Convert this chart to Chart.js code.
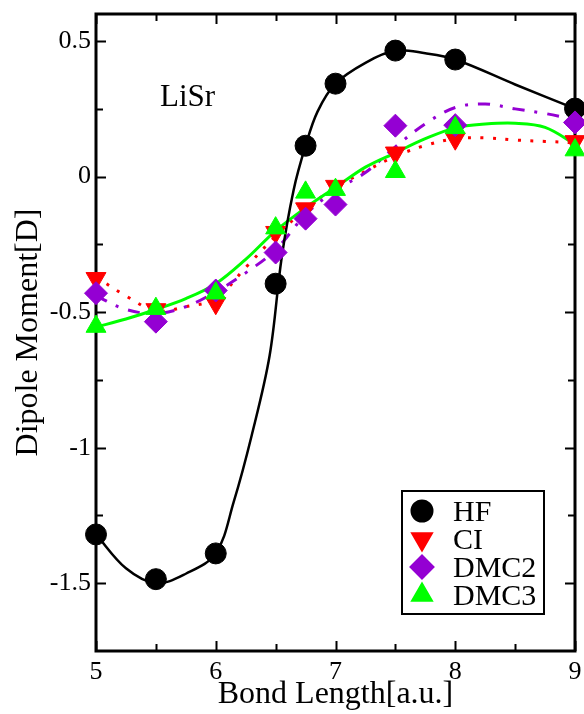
<!DOCTYPE html>
<html>
<head>
<meta charset="utf-8">
<script src="https://cdn.jsdelivr.net/npm/chart.js@4.4.1/dist/chart.umd.min.js"></script>
<style>
  html, body { margin: 0; padding: 0; background: #fff; }
  canvas { display: block; }
</style>
</head>
<body>
<canvas id="chart" width="584" height="714"></canvas>
<script>
// computed points (bond length in a.u., dipole moment in D)
const bondLength = [5, 5.5, 6, 6.5, 6.75, 7, 7.5, 8, 9];
const hf   = [-1.32, -1.485, -1.39, -0.395, 0.114, 0.343, 0.465, 0.432, 0.251];
const ci   = [-0.375, -0.49, -0.467, -0.205, -0.118, -0.035, 0.088, 0.14, 0.13];
const dmc2 = [-0.43, -0.535, -0.42, -0.28, -0.155, -0.103, 0.188, 0.19, 0.2];
const dmc3 = [-0.553, -0.487, -0.43, -0.19, -0.058, -0.048, 0.018, 0.18, 0.098];

// curves drawn through / fitted to the points
const hfCurveX = [5, 5.25, 5.5, 5.75, 6, 6.15, 6.3, 6.45, 6.55, 6.65, 6.75, 6.85, 7, 7.25, 7.5, 7.75, 8, 8.5, 9];
const hfCurveY = [-1.32, -1.445, -1.5, -1.465, -1.39, -1.2, -0.955, -0.66, -0.3, -0.05, 0.114, 0.24, 0.343, 0.42, 0.465, 0.455, 0.432, 0.34, 0.251];
const fitX    = [5, 5.25, 5.5, 5.75, 6, 6.25, 6.5, 6.75, 7, 7.25, 7.5, 7.75, 8, 8.25, 8.5, 8.75, 9];
const ciFit   = [-0.37, -0.44, -0.495, -0.48, -0.45, -0.335, -0.22, -0.12, -0.04, 0.02, 0.075, 0.115, 0.14, 0.143, 0.135, 0.13, 0.125];
const dmc2Fit = [-0.44, -0.49, -0.505, -0.48, -0.425, -0.355, -0.27, -0.14, -0.05, 0.015, 0.11, 0.195, 0.255, 0.268, 0.25, 0.233, 0.21];
const dmc3Fit = [-0.555, -0.525, -0.49, -0.45, -0.395, -0.305, -0.2, -0.115, -0.04, 0.035, 0.088, 0.14, 0.18, 0.194, 0.197, 0.182, 0.12];

const xTicks = [5, 6, 7, 8, 9];
const xMinorTicks = [5.5, 6.5, 7.5, 8.5];
const yTicks = [-1.5, -1, -0.5, 0, 0.5];
const yMinorTicks = [-1.25, -0.75, -0.25, 0.25];

const serif = "'Liberation Serif', 'Times New Roman', serif";
const violet = "#9400d3";
const green = "#00ff00";

const pts = (xs, ys) => xs.map((x, i) => ({ x: x, y: ys[i] }));

function markers(label, ys, color, style, rotation, radius, order) {
  return {
    label: label,
    data: pts(bondLength, ys),
    showLine: false,
    pointStyle: style,
    rotation: rotation,
    pointRadius: radius,
    pointBackgroundColor: color,
    pointBorderColor: color,
    pointBorderWidth: 1,
    borderColor: color,
    backgroundColor: color,
    clip: false,
    order: order,
    isMarker: true
  };
}

function curve(xs, ys, color, width, dash, order) {
  return {
    label: "",
    data: pts(xs, ys),
    showLine: true,
    fill: false,
    borderColor: color,
    borderWidth: width,
    borderDash: dash,
    pointRadius: 0,
    tension: 0.35,
    clip: false,
    order: order
  };
}

// frame with inward ticks on all four sides, legend box and label
const frame = {
  id: "frame",
  beforeDatasetsDraw(chart) {
    const { ctx, chartArea: a, scales } = chart;
    const x = scales.x, y = scales.y;
    ctx.save();
    ctx.strokeStyle = "#000";
    ctx.lineWidth = 2;
    ctx.beginPath();
    const vt = (vals, len) => vals.forEach(v => {
      const px = Math.round(x.getPixelForValue(v)) + 0.5;
      ctx.moveTo(px, a.bottom); ctx.lineTo(px, a.bottom - len);
      ctx.moveTo(px, a.top); ctx.lineTo(px, a.top + len);
    });
    const ht = (vals, len) => vals.forEach(v => {
      const py = Math.round(y.getPixelForValue(v)) + 0.5;
      ctx.moveTo(a.left, py); ctx.lineTo(a.left + len, py);
      ctx.moveTo(a.right, py); ctx.lineTo(a.right - len, py);
    });
    vt(xTicks, 10); vt(xMinorTicks, 7);
    ht(yTicks, 10); ht(yMinorTicks, 7);
    ctx.stroke();
    ctx.lineWidth = 3;
    ctx.strokeRect(a.left, a.top, a.right - a.left, a.bottom - a.top);
    ctx.restore();
  },
  afterDraw(chart) {
    const ctx = chart.ctx;
    ctx.save();
    ctx.fillStyle = "#000";
    ctx.font = "31px " + serif;
    ctx.textBaseline = "alphabetic";
    ctx.fillText("LiSr", 160, 106);

    // legend
    const bx = 402, by = 491, bw = 142, bh = 123;
    ctx.fillStyle = "#fff";
    ctx.fillRect(bx, by, bw, bh);
    ctx.strokeStyle = "#000";
    ctx.lineWidth = 2;
    ctx.strokeRect(bx, by, bw, bh);
    const items = chart.data.datasets.filter(d => d.isMarker);
    ctx.font = "30px " + serif;
    items.forEach((d, i) => {
      const cy = by + 20 + i * 28;
      ctx.fillStyle = d.pointBackgroundColor;
      ctx.strokeStyle = d.pointBorderColor;
      Chart.helpers.drawPoint(ctx, {
        pointStyle: d.pointStyle,
        rotation: d.rotation,
        radius: d.pointRadius,
        borderWidth: 1
      }, bx + 20, cy);
      ctx.fillStyle = "#000";
      ctx.fillText(d.label, bx + 51, cy + 10);
    });
    ctx.restore();
  }
};

new Chart(document.getElementById("chart"), {
  type: "scatter",
  data: {
    datasets: [
      markers("HF", hf, "#000", "circle", 0, 10.5, 4),
      markers("CI", ci, "#ff0000", "triangle", 180, 11.5, 3),
      markers("DMC2", dmc2, violet, "rectRot", 0, 11.5, 2),
      markers("DMC3", dmc3, green, "triangle", 0, 11.5, 1),
      curve(hfCurveX, hfCurveY, "#000", 2.5, [], 5),
      curve(fitX, ciFit, "#ff0000", 3, [3, 9.5], 8),
      curve(fitX, dmc2Fit, violet, 3, [12, 10, 3, 10], 7),
      curve(fitX, dmc3Fit, green, 3, [], 6)
    ]
  },
  options: {
    responsive: false,
    animation: false,
    layout: { autoPadding: false, padding: { top: 14, right: 9, left: 0, bottom: 0 } },
    plugins: { legend: { display: false }, tooltip: { enabled: false } },
    scales: {
      x: {
        type: "linear",
        min: 5,
        max: 9,
        grid: { display: false, drawTicks: false },
        border: { display: false },
        afterBuildTicks: s => { s.ticks = xTicks.map(v => ({ value: v })); },
        afterFit: s => { s.height = 63; s.paddingLeft = 0; s.paddingRight = 0; },
        ticks: { padding: 6, color: "#000", font: { family: serif, size: 26 }, callback: v => String(v) },
        title: { display: true, text: "Bond Length[a.u.]", color: "#000", font: { family: serif, size: 32 }, padding: { top: 0, bottom: 0 } }
      },
      y: {
        type: "linear",
        min: -1.75,
        max: 0.6,
        grid: { display: false, drawTicks: false },
        border: { display: false },
        afterBuildTicks: s => { s.ticks = yTicks.map(v => ({ value: v })); },
        afterFit: s => { s.width = 96; s.paddingTop = 0; s.paddingBottom = 0; },
        ticks: { padding: 5, color: "#000", font: { family: serif, size: 26 }, callback: v => String(v) },
        title: { display: true, text: "Dipole Moment[D]", color: "#000", font: { family: serif, size: 32 }, padding: { top: 9, bottom: 0 } }
      }
    }
  },
  plugins: [frame]
});
</script>
</body>
</html>
